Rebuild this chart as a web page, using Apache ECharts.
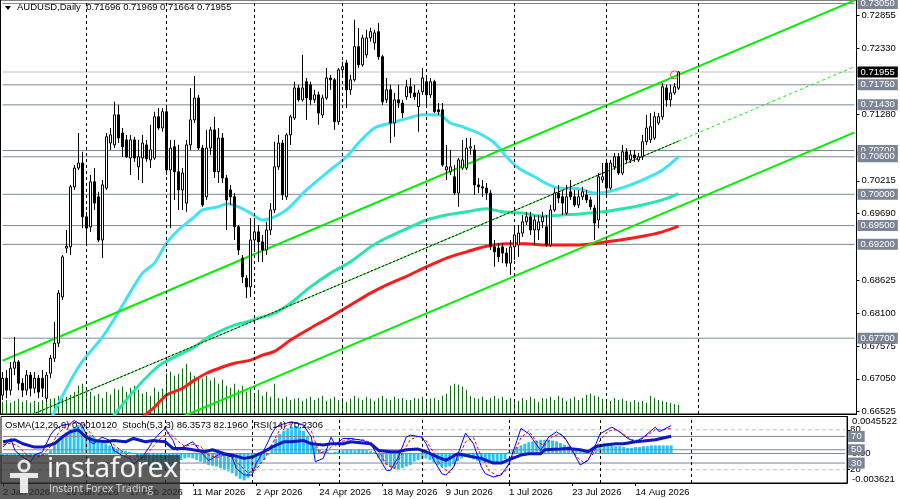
<!DOCTYPE html>
<html>
<head>
<meta charset="utf-8">
<title>AUDUSD, Daily</title>
<script src="https://cdn.jsdelivr.net/npm/echarts@6/dist/echarts.min.js"></script>
<style>
  html, body { margin: 0; padding: 0; background: #fff; }
  #chart { width: 900px; height: 499px; }
</style>
</head>
<body>
<div id="chart"></div>
<script>
var FONT = 'Liberation Sans';
var FS = 9.5;

// x labels shown under the oscillator window (every 16 bars)
var tickLabels = ['2 Jan 2026', '26 Jan 2026', '17 Feb 2026', '11 Mar 2026', '2 Apr 2026',
  '24 Apr 2026', '18 May 2026', '9 Jun 2026', '1 Jul 2026', '23 Jul 2026', '14 Aug 2026'];
// bars where the dashed vertical grid sits (month starts)
var monthBars = [21, 41, 63, 85, 106, 128, 151, 174];

// price scale
var priceMin = 0.664884, priceMax = 0.73106;
var priceTicks = [0.72855, 0.72330, 0.71280, 0.70215, 0.69690, 0.68625, 0.68100, 0.67575, 0.67050, 0.66525];
var levels = [0.73050, 0.71750, 0.71430, 0.70700, 0.70600, 0.70000, 0.69500, 0.69200, 0.67700];
var lastPrice = 0.71955;
var lastBar = 213;

// daily candles: [open, close, low, high]
var ohlc = [
  [0.6679,0.6706,0.6671,0.6716],[0.6706,0.6687,0.6674,0.6719],[0.6687,0.6722,0.6679,0.6732],[0.6722,0.6732,0.6711,0.6772],
  [0.6732,0.6698,0.6687,0.6735],[0.6698,0.6687,0.6676,0.6706],[0.6687,0.6711,0.6679,0.6719],[0.6711,0.6690,0.6677,0.6716],
  [0.6690,0.6706,0.6682,0.6716],[0.6706,0.6684,0.6674,0.6711],[0.6706,0.6690,0.6676,0.6719],[0.6674,0.6711,0.6668,0.6716],
  [0.6714,0.6738,0.6706,0.6743],[0.6738,0.6762,0.6732,0.6796],[0.6762,0.6842,0.6756,0.6847],[0.6836,0.6900,0.6831,0.6903],
  [0.6914,0.6917,0.6906,0.6943],[0.6916,0.7012,0.6903,0.7015],[0.7012,0.7042,0.7007,0.7047],[0.7042,0.7050,0.7039,0.7098],
  [0.7050,0.6964,0.6946,0.7068],[0.6964,0.6946,0.6922,0.6972],[0.6948,0.7020,0.6940,0.7031],[0.7020,0.6986,0.6975,0.7042],
  [0.6996,0.6927,0.6924,0.7004],[0.6927,0.7015,0.6898,0.7023],[0.7010,0.7092,0.7007,0.7098],[0.7082,0.7095,0.7071,0.7106],
  [0.7079,0.7127,0.7074,0.7148],[0.7127,0.7090,0.7082,0.7143],[0.7098,0.7076,0.7060,0.7106],[0.7087,0.7060,0.7058,0.7095],
  [0.7058,0.7087,0.7031,0.7095],[0.7087,0.7058,0.7052,0.7092],[0.7044,0.7060,0.7023,0.7087],[0.7058,0.7082,0.7018,0.7095],
  [0.7079,0.7057,0.7052,0.7087],[0.7055,0.7071,0.7042,0.7111],[0.7058,0.7124,0.7055,0.7132],[0.7124,0.7106,0.7103,0.7138],
  [0.7106,0.7132,0.7100,0.7138],[0.7132,0.7039,0.7031,0.7143],[0.7039,0.7074,0.6946,0.7087],[0.7076,0.7036,0.6991,0.7087],
  [0.7036,0.7007,0.6975,0.7079],[0.7007,0.7034,0.6975,0.7042],[0.6986,0.7079,0.6972,0.7087],[0.7079,0.7119,0.7071,0.7170],
  [0.7119,0.7154,0.7114,0.7189],[0.7154,0.7074,0.7071,0.7159],[0.7074,0.6983,0.6980,0.7079],[0.6996,0.7074,0.6991,0.7103],
  [0.7074,0.7103,0.7063,0.7108],[0.7103,0.7036,0.7026,0.7124],[0.7036,0.7090,0.7018,0.7106],[0.7090,0.7026,0.7018,0.7098],
  [0.7026,0.6991,0.6943,0.7031],[0.7007,0.6996,0.6983,0.7015],[0.6996,0.6948,0.6927,0.7002],[0.6948,0.6911,0.6903,0.6951],
  [0.6898,0.6868,0.6858,0.6903],[0.6866,0.6852,0.6834,0.6871],[0.6852,0.6927,0.6836,0.6962],[0.6927,0.6940,0.6911,0.6962],
  [0.6940,0.6924,0.6892,0.6951],[0.6924,0.6911,0.6892,0.6935],[0.6911,0.6943,0.6903,0.6956],[0.6943,0.6975,0.6935,0.6986],
  [0.6975,0.7044,0.6970,0.7084],[0.7044,0.7082,0.7039,0.7095],[0.7082,0.6999,0.6991,0.7087],[0.6996,0.7095,0.6991,0.7098],
  [0.7095,0.7124,0.7079,0.7127],[0.7122,0.7170,0.7119,0.7180],[0.7170,0.7151,0.7148,0.7175],[0.7151,0.7170,0.7148,0.7223],
  [0.7180,0.7154,0.7119,0.7186],[0.7175,0.7151,0.7143,0.7180],[0.7151,0.7159,0.7146,0.7167],[0.7159,0.7130,0.7111,0.7164],
  [0.7127,0.7154,0.7122,0.7159],[0.7154,0.7186,0.7151,0.7202],[0.7186,0.7183,0.7167,0.7191],[0.7183,0.7116,0.7103,0.7186],
  [0.7116,0.7199,0.7111,0.7202],[0.7199,0.7204,0.7191,0.7212],[0.7210,0.7167,0.7138,0.7215],[0.7167,0.7183,0.7159,0.7191],
  [0.7183,0.7236,0.7180,0.7279],[0.7236,0.7207,0.7202,0.7266],[0.7207,0.7250,0.7204,0.7255],[0.7223,0.7250,0.7218,0.7263],
  [0.7250,0.7260,0.7244,0.7266],[0.7242,0.7258,0.7231,0.7263],[0.7260,0.7220,0.7215,0.7274],[0.7220,0.7148,0.7143,0.7223],
  [0.7151,0.7167,0.7146,0.7186],[0.7167,0.7114,0.7082,0.7175],[0.7114,0.7151,0.7092,0.7162],[0.7151,0.7146,0.7138,0.7175],
  [0.7146,0.7130,0.7122,0.7151],[0.7156,0.7172,0.7151,0.7183],[0.7172,0.7162,0.7154,0.7186],[0.7162,0.7156,0.7151,0.7175],
  [0.7140,0.7162,0.7100,0.7167],[0.7164,0.7186,0.7159,0.7202],[0.7180,0.7159,0.7143,0.7191],[0.7159,0.7180,0.7154,0.7186],
  [0.7180,0.7132,0.7130,0.7183],[0.7135,0.7132,0.7127,0.7146],[0.7135,0.7047,0.7044,0.7146],[0.7039,0.7044,0.7023,0.7079],
  [0.7036,0.7044,0.7031,0.7071],[0.7028,0.7002,0.6999,0.7047],[0.7002,0.7055,0.6980,0.7058],[0.7042,0.7055,0.7039,0.7087],
  [0.7042,0.7074,0.7039,0.7090],[0.7074,0.7076,0.7063,0.7090],[0.7071,0.7015,0.6999,0.7079],[0.7015,0.7012,0.7002,0.7026],
  [0.7012,0.7010,0.6996,0.7023],[0.7010,0.7002,0.6991,0.7018],[0.7002,0.6916,0.6911,0.7007],[0.6916,0.6908,0.6884,0.6927],
  [0.6914,0.6900,0.6892,0.6922],[0.6916,0.6906,0.6890,0.6922],[0.6906,0.6890,0.6884,0.6914],[0.6890,0.6916,0.6871,0.6927],
  [0.6916,0.6935,0.6895,0.6946],[0.6919,0.6938,0.6900,0.6951],[0.6938,0.6956,0.6932,0.6967],[0.6956,0.6964,0.6951,0.6972],
  [0.6964,0.6943,0.6935,0.6972],[0.6943,0.6959,0.6919,0.6967],[0.6943,0.6956,0.6927,0.6967],[0.6956,0.6964,0.6946,0.6972],
  [0.6948,0.6919,0.6916,0.6967],[0.6919,0.6975,0.6916,0.6983],[0.6975,0.7002,0.6972,0.7010],[0.7002,0.6994,0.6986,0.7015],
  [0.6996,0.6986,0.6967,0.7007],[0.6970,0.6996,0.6967,0.7015],[0.7004,0.6996,0.6991,0.7023],[0.6996,0.6983,0.6980,0.7007],
  [0.6983,0.6996,0.6978,0.7007],[0.6996,0.7004,0.6991,0.7012],[0.6999,0.6991,0.6986,0.7007],[0.6991,0.6980,0.6975,0.6996],
  [0.6978,0.6954,0.6927,0.6983],[0.6959,0.7028,0.6946,0.7034],[0.7023,0.7028,0.7018,0.7050],[0.7050,0.7010,0.6999,0.7055],
  [0.7010,0.7050,0.7007,0.7055],[0.7044,0.7060,0.7039,0.7066],[0.7060,0.7034,0.7031,0.7066],[0.7034,0.7068,0.7031,0.7079],
  [0.7068,0.7055,0.7050,0.7074],[0.7055,0.7063,0.7050,0.7071],[0.7063,0.7058,0.7052,0.7071],[0.7055,0.7060,0.7052,0.7066],
  [0.7060,0.7084,0.7055,0.7095],[0.7084,0.7106,0.7079,0.7127],[0.7087,0.7108,0.7082,0.7130],[0.7090,0.7124,0.7087,0.7132],
  [0.7114,0.7124,0.7111,0.7130],[0.7124,0.7172,0.7119,0.7178],[0.7170,0.7151,0.7140,0.7175],[0.7151,0.7162,0.7140,0.7175],
  [0.7162,0.7172,0.7159,0.7178],[0.71696,0.71955,0.71664,0.71969]
];

// tick volume, thousands
var volumes = [
  30,35,28,33,38,30,35,28,33,30,35,33,38, 40,45,38,43,48,55, 70,75,65,55, 45,50,40,55,48, 63,60,68,55,65,70,
  60,50,55,45,65,55,63,100,105,95,100,113,125,105,95,90,88,95,83,90,75,85,70,65,75,60,70,55,65,50,60,45,55,43,75,
  40,38,43,35,38,40,33,38,43,35,40,45,33,38,43,35,40,30,38,45,40,35,43,38,33,40,45,38,35,43,38,40,35,
  35,40,38,43,33,38,40,35,45,50,70,75,73,68,60,45,40,38,43,35,40,45,38,43,35,40,38,33,40,35,43,38,30,40,
  38,43,35,45,40,33,38,43,35,40,48,50,45,43,38,35,33,40,35,38,33,30,35,30,33,28,45,40,35,33,30,28,25,23
];

// moving averages [bar, value]
var maFast = [[12,0.6640],[19,0.6724],[25,0.6772],[29,0.6812],[32,0.6844],[35,0.6874],[38,0.6890],[41,0.6922],
  [44,0.6943],[48,0.6964],[50,0.6975],[54,0.6980],[56,0.6985],[59,0.6980],[62,0.6970],[65,0.6959],[68,0.6964],
  [71,0.6975],[76,0.7007],[81,0.7034],[86,0.7060],[89,0.7082],[93,0.7106],[97,0.7114],[101,0.7121],[105,0.7127],
  [109,0.7127],[112,0.7114],[115,0.7108],[119,0.7098],[123,0.7082],[126,0.7060],[129,0.7042],[133,0.7028],
  [136,0.7017],[139,0.7010],[144,0.7009],[148,0.7002],[152,0.7005],[157,0.7015],[161,0.7026],[165,0.7039],[169,0.7060]];
var maMid = [[27,0.6640],[33,0.6687],[37,0.6714],[40,0.6730],[44,0.6743],[48,0.6756],[51,0.6770],[55,0.6783],
  [58,0.6791],[61,0.6796],[64,0.6802],[68,0.6810],[72,0.6826],[77,0.6852],[82,0.6874],[87,0.6892],[92,0.6916],
  [95,0.6927],[101,0.6945],[106,0.6959],[111,0.6967],[116,0.6972],[121,0.6977],[125,0.6972],[130,0.6970],
  [135,0.6965],[140,0.6967],[145,0.6969],[150,0.6972],[155,0.6977],[160,0.6983],[165,0.6991],[169,0.7001]];
var maSlow = [[33,0.6634],[38,0.6660],[41,0.6679],[45,0.6690],[48,0.6703],[51,0.6714],[55,0.6724],[58,0.6730],
  [62,0.6735],[65,0.6743],[68,0.6749],[72,0.6767],[77,0.6786],[82,0.6804],[87,0.6823],[92,0.6842],[97,0.6858],
  [101,0.6869],[106,0.6884],[111,0.6898],[116,0.6908],[121,0.6917],[126,0.6921],[131,0.6921],[135,0.6919],
  [143,0.6919],[151,0.6924],[160,0.6933],[165,0.6940],[169,0.6949]];

// channel lines [bar, price]
var chanTop = [[0,0.6734],[213,0.7310]];
var chanBottom = [[0,0.6523],[213,0.7099]];
var chanMid = [[0,0.6628],[169,0.7085]];
var chanMidExt = [[169,0.7085],[213,0.7204]];
var touchMark = [[168,0.7191]];

// oscillators
var osmaMin = -0.003621, osmaMax = 0.0045522;
var osma = [
  -0.0003,-0.0003,-0.0002,-0.0002,-0.0003,-0.0004,-0.0004,-0.0003,-0.0003,-0.0004,-0.0003,-0.0002,
  0.0004,0.0010,0.0016,0.0022,0.0026,0.0030,0.0033,0.0035,0.0032,
  0.0026,0.0023,0.0020,0.0015,0.0013,0.0012,0.0010,0.0008,
  0.0006,0.0004,0.0003,0.0002,0.0001,
  -0.0005,-0.0009,-0.0012,-0.0015,-0.0017,-0.0018,-0.0019,-0.0018,-0.0017,-0.0015,-0.0012,
  -0.0008,-0.0006,-0.0005,-0.0006,-0.0008,-0.0010,
  -0.0012,-0.0014,-0.0015,-0.0016,-0.0018,-0.0020,-0.0022,-0.0024,
  -0.0028,-0.0031,-0.0033,-0.0030,
  -0.0024,-0.0018,-0.0013,-0.0008,-0.0002,
  0.0010,0.0018,0.0024,0.0028,0.0031,0.0033,0.0034,0.0032,0.0028,0.0022,
  0.0015,0.0009,0.0005,0.0003,
  0.0002,0.0001,0.0002,0.0003,0.0004,0.0005,0.0005,0.0004,0.0005,0.0005,0.0004,0.0003,0.0002,
  -0.0005,-0.0010,-0.0014,-0.0017,-0.0019,-0.0020,-0.0018,-0.0016,-0.0014,
  -0.0010,-0.0008,-0.0007,
  -0.0006,-0.0008,-0.0011,-0.0014,-0.0016,-0.0017,
  -0.0016,-0.0013,-0.0009,-0.0006,-0.0004,
  -0.0005,-0.0007,-0.0009,-0.0010,-0.0011,-0.0012,-0.0012,-0.0011,-0.0010,-0.0007,
  0.0002,0.0005,0.0008,0.0010,0.0012,0.0014,0.0015,0.0016,
  0.0017,0.0017,0.0017,0.0016,0.0015,0.0013,0.0011,0.0009,
  0.0006,0.0004,0.0003,0.0003,0.0004,0.0006,0.0008,
  0.0009,0.0010,0.0010,0.0010,0.0009,0.0009,0.0008,0.0007,0.0007,0.0008,0.0008,0.0009,0.0009,0.0010,
  0.0010,0.0010,0.0010,0.0010,0.00101
];
var stochK = [[0,54],[2,67],[3,49],[5,39],[7,32],[8,42],[10,47],[12,72],[13,80],[15,87],[17,89],[18,94],[20,87],
  [22,62],[23,59],[25,69],[27,64],[28,49],[30,42],[32,37],[33,29],[35,37],[37,54],[38,64],[40,77],[41,82],[43,64],
  [44,49],[47,59],[48,62],[50,47],[52,34],[53,37],[55,44],[58,39],[59,22],[61,12],[63,12],[64,29],[66,49],[68,74],
  [69,84],[71,89],[73,92],[76,87],[78,69],[79,32],[81,37],[83,69],[84,57],[86,67],[88,67],[91,64],[93,59],[95,39],
  [97,19],[98,19],[100,39],[102,69],[103,72],[106,69],[107,59],[109,34],[111,14],[112,12],[114,24],[116,59],
  [117,75],[119,59],[121,24],[122,14],[124,9],[126,12],[128,29],[130,64],[131,82],[133,74],[136,49],[138,69],
  [140,77],[142,69],[144,49],[146,27],[148,34],[150,59],[151,74],[154,84],[156,77],[158,67],[160,62],[162,69],
  [165,84],[166,77],[169,86.36]];
var stochD = [[0,58],[2,60],[4,55],[6,42],[8,37],[10,42],[12,55],[14,75],[16,85],[18,90],[20,90],[22,76],[24,62],
  [26,64],[28,58],[30,48],[32,40],[34,34],[36,40],[38,55],[40,68],[42,76],[44,64],[46,55],[48,58],[50,55],[52,42],
  [54,38],[56,42],[58,40],[60,26],[62,15],[64,20],[66,35],[68,58],[70,80],[72,88],[74,90],[76,88],[78,78],[80,45],
  [82,48],[84,60],[86,63],[88,66],[91,65],[93,61],[95,48],[97,28],[99,22],[101,45],[103,65],[105,70],[107,64],
  [109,45],[111,24],[113,15],[115,35],[117,62],[119,68],[121,40],[123,18],[125,11],[127,17],[129,42],[131,68],
  [133,78],[135,62],[137,56],[139,70],[141,74],[143,60],[145,40],[147,30],[149,42],[151,64],[153,78],[155,80],
  [157,73],[159,65],[161,64],[163,72],[165,80],[167,80],[169,82.2]];
var rsi = [[0,62],[3,65],[5,59],[8,54],[10,54],[13,59],[15,69],[17,77],[19,80],[21,69],[23,64],[26,62],[28,64],
  [31,62],[33,67],[36,62],[38,64],[41,62],[43,52],[46,52],[48,50],[51,47],[53,50],[56,44],[58,42],[61,37],[63,39],
  [66,47],[68,54],[71,62],[73,62],[76,64],[78,59],[81,57],[83,59],[86,59],[88,62],[91,60],[93,59],[95,49],[98,47],
  [100,47],[102,50],[105,51],[107,47],[110,39],[112,34],[115,44],[119,39],[121,37],[124,30],[126,30],[128,35],
  [131,42],[133,44],[136,44],[137,50],[141,51],[143,52],[146,50],[148,47],[150,55],[152,57],[155,59],[157,59],
  [160,62],[162,63],[165,65],[169,70.23]];
var oscLevels = [70, 50, 30];
var oscDashed = [80, 20];

// trading-day categories, including the empty space to the right
var monthNames = ['Jan','Feb','Mar','Apr','May','Jun','Jul','Aug','Sep','Oct','Nov','Dec'];
var dates = [];
var day = new Date(Date.UTC(2026, 0, 2));
while (dates.length < lastBar + 1) {
  var wd = day.getUTCDay();
  if (wd !== 0 && wd !== 6) {
    dates.push(day.getUTCDate() + ' ' + monthNames[day.getUTCMonth()] + ' ' + day.getUTCFullYear());
  }
  day.setUTCDate(day.getUTCDate() + 1);
}

function tag(bg, text) {
  return { show: true, distance: 3, formatter: text, color: '#fff', backgroundColor: bg,
    padding: [1, 3, 0, 3], fontFamily: FONT, fontSize: FS };
}
// horizontal level as its own line series, tag drawn as end label
function levelSeries(v, xi, yi, color, bg, text, dashed) {
  var s = { type: 'line', xAxisIndex: xi, yAxisIndex: yi, data: [[0, v], [lastBar, v]], showSymbol: false,
    silent: true, lineStyle: { color: color, width: 1, type: dashed ? [4, 3] : 'solid' }, z: 2 };
  if (bg) s.endLabel = tag(bg, text);
  return s;
}
function monthGrid() {
  return { silent: true, symbol: 'none', animation: false, label: { show: false },
    lineStyle: { color: '#000', type: [3, 3], width: 1 },
    data: monthBars.map(function (i) { return { xAxis: dates[i] }; }) };
}

var series = [
  { name: 'Volume', type: 'bar', xAxisIndex: 0, yAxisIndex: 1, data: volumes, barWidth: 1,
    itemStyle: { color: '#106e10' }, z: 1, markLine: monthGrid() }
];
levels.forEach(function (v) {
  series.push(levelSeries(v, 0, 0, '#7b8898', '#7b8595', v.toFixed(5)));
});
series.push(levelSeries(lastPrice, 0, 0, '#c0c0c0', '#000', lastPrice.toFixed(5)));
series = series.concat([
  { name: 'MA slow', type: 'line', xAxisIndex: 0, yAxisIndex: 0, data: maSlow, smooth: 0.3, showSymbol: false,
    lineStyle: { color: '#ff1a1a', width: 3 }, z: 3 },
  { name: 'MA mid', type: 'line', xAxisIndex: 0, yAxisIndex: 0, data: maMid, smooth: 0.3, showSymbol: false,
    lineStyle: { color: '#26e6ad', width: 3 }, z: 3 },
  { name: 'MA fast', type: 'line', xAxisIndex: 0, yAxisIndex: 0, data: maFast, smooth: 0.3, showSymbol: false,
    lineStyle: { color: '#3ee3f4', width: 3 }, z: 3 },
  { name: 'Channel top', type: 'line', xAxisIndex: 0, yAxisIndex: 0, data: chanTop, showSymbol: false,
    lineStyle: { color: '#00f000', width: 2 }, z: 4 },
  { name: 'Channel bottom', type: 'line', xAxisIndex: 0, yAxisIndex: 0, data: chanBottom, showSymbol: false,
    lineStyle: { color: '#00f000', width: 2 }, z: 4 },
  { name: 'Channel mid', type: 'line', xAxisIndex: 0, yAxisIndex: 0, data: chanMid, showSymbol: false,
    lineStyle: { color: '#00e000', width: 1 }, z: 4 },
  { name: 'Channel mid dots', type: 'line', xAxisIndex: 0, yAxisIndex: 0, data: chanMid, showSymbol: false,
    lineStyle: { color: '#000', width: 1, type: [2, 2] }, z: 4 },
  { name: 'Channel mid ext', type: 'line', xAxisIndex: 0, yAxisIndex: 0, data: chanMidExt, showSymbol: false,
    lineStyle: { color: '#00f000', width: 1, type: [3, 3] }, z: 4 },
  { name: 'AUDUSD', type: 'candlestick', xAxisIndex: 0, yAxisIndex: 0, data: ohlc, barWidth: 2,
    itemStyle: { color: '#fff', color0: '#000', borderColor: '#000', borderColor0: '#000', borderWidth: 1 }, z: 5 },
  { name: 'Touch', type: 'scatter', xAxisIndex: 0, yAxisIndex: 0, data: touchMark, symbolSize: 8,
    itemStyle: { color: 'rgba(0,0,0,0)', borderColor: '#ff3030', borderWidth: 1 }, z: 6 },
  { name: 'OsMA', type: 'bar', xAxisIndex: 1, yAxisIndex: 3, data: osma, barWidth: 3,
    itemStyle: { color: '#2cc5f3' }, z: 2, markLine: monthGrid() },
  levelSeries(0, 1, 3, '#7b8898')
]);
oscLevels.forEach(function (v) {
  series.push(levelSeries(v, 1, 2, '#7b8898', '#7b8595', String(v)));
});
oscDashed.forEach(function (v) {
  series.push(levelSeries(v, 1, 2, '#c4c4c4', null, null, true));
});
series = series.concat([
  { name: 'Stoch signal', type: 'line', xAxisIndex: 1, yAxisIndex: 2, data: stochD, showSymbol: false,
    lineStyle: { color: '#ff0000', width: 1, type: [3, 2] }, z: 3 },
  { name: 'Stoch', type: 'line', xAxisIndex: 1, yAxisIndex: 2, data: stochK, showSymbol: false,
    lineStyle: { color: '#0000ff', width: 1 }, z: 3 },
  { name: 'RSI', type: 'line', xAxisIndex: 1, yAxisIndex: 2, data: rsi, showSymbol: false,
    lineStyle: { color: '#0c18c4', width: 3 }, z: 4 }
]);

var option = {
  animation: false,
  backgroundColor: '#fff',
  textStyle: { fontFamily: FONT },
  grid: [
    { left: 0.5, right: 43.5, top: 0, height: 414, show: true, borderColor: '#000', borderWidth: 1 },
    { left: 0.5, right: 43.5, top: 416.5, height: 66.5, show: true, borderColor: '#000', borderWidth: 1 }
  ],
  xAxis: [
    { type: 'category', gridIndex: 0, data: dates, boundaryGap: true,
      axisLine: { lineStyle: { color: '#000' } }, axisTick: { show: false }, axisLabel: { show: false },
      splitLine: { show: false } },
    { type: 'category', gridIndex: 1, data: dates, boundaryGap: true,
      axisLine: { lineStyle: { color: '#000' } },
      axisTick: { show: true, alignWithLabel: true, length: 3, lineStyle: { color: '#000' },
        interval: function (i, v) { return tickLabels.indexOf(v) >= 0; } },
      axisLabel: { show: true, align: 'left', margin: 4, color: '#000', fontSize: FS, fontFamily: FONT,
        interval: function (i, v) { return tickLabels.indexOf(v) >= 0; } },
      splitLine: { show: false } }
  ],
  yAxis: [
    { type: 'value', gridIndex: 0, position: 'right', min: priceMin, max: priceMax,
      axisLine: { show: true, lineStyle: { color: '#000' } },
      axisTick: { show: true, length: 3, customValues: priceTicks, lineStyle: { color: '#000' } },
      axisLabel: { customValues: priceTicks, margin: 5, color: '#000', fontSize: FS, fontFamily: FONT,
        formatter: function (v) { return v.toFixed(5); } },
      splitLine: { show: false } },
    { type: 'value', gridIndex: 0, position: 'left', min: 0, max: 1027.5, show: false },
    { type: 'value', gridIndex: 1, position: 'right', min: 0, max: 100,
      axisLine: { show: true, lineStyle: { color: '#000' } },
      axisTick: { show: true, length: 3, customValues: oscDashed, lineStyle: { color: '#000' } },
      axisLabel: { customValues: oscDashed, margin: 3, color: '#000', fontSize: FS, fontFamily: FONT },
      splitLine: { show: false } },
    { type: 'value', gridIndex: 1, position: 'right', min: osmaMin, max: osmaMax,
      axisLine: { show: false }, axisTick: { show: false }, splitLine: { show: false },
      axisLabel: { customValues: [osmaMax, 0, osmaMin], margin: 5, color: '#000', fontSize: FS, fontFamily: FONT,
        formatter: function (v) {
          if (v > 0) return '{t|' + osmaMax.toFixed(7) + '}';
          if (v < 0) return '{b|' + osmaMin.toFixed(6) + '}';
          return '0.00';
        },
        rich: { t: { padding: [10, 0, 0, 0], fontSize: FS, fontFamily: FONT }, b: { padding: [0, 0, 8, 0], fontSize: FS, fontFamily: FONT } } } }
  ],
  series: series,
  graphic: [
    { type: 'polygon', shape: { points: [[5, 6], [11, 6], [8, 10]] }, style: { fill: '#000' }, z: 100 },
    { type: 'text', x: 17, y: 2, z: 100,
      style: { text: 'AUDUSD,Daily  0.71696 0.71969 0.71664 0.71955', font: FS + 'px "Liberation Sans"', fill: '#000', verticalAlign: 'top' } },
    { type: 'text', x: 5, y: 420, z: 100,
      style: { text: 'OsMA(12,26,9) 0.0010120  Stoch(5,3,3) 86.3573 82.1960  RSI(14) 70.2306', font: FS + 'px "Liberation Sans"', fill: '#000', verticalAlign: 'top' } },
    { type: 'rect', shape: { x: 0, y: 455, width: 180, height: 44 }, style: { fill: 'rgba(48,48,48,0.78)' }, z: 100 },
    { type: 'circle', shape: { cx: 24, cy: 466, r: 5 }, style: { fill: 'rgba(0,0,0,0)', stroke: '#e8e8e8', lineWidth: 3 }, z: 101 },
    { type: 'rect', shape: { x: 10, y: 473, width: 28, height: 5 }, style: { fill: '#e8e8e8' }, z: 101 },
    { type: 'rect', shape: { x: 20, y: 473, width: 8, height: 20 }, style: { fill: '#e8e8e8' }, z: 101 },
    { type: 'text', x: 47, y: 455, z: 101,
      style: { text: 'instaforex', font: '28px "Open Sans"', fill: '#f4f4f4', stroke: '#999', lineWidth: 0.6, verticalAlign: 'top' } },
    { type: 'text', x: 49, y: 484, z: 101,
      style: { text: 'Instant Forex Trading', font: '10.5px "Open Sans"', fill: '#d8d8d8', verticalAlign: 'top' } }
  ]
};

var chart = echarts.init(document.getElementById('chart'));
chart.setOption(option);
</script>
</body>
</html>
